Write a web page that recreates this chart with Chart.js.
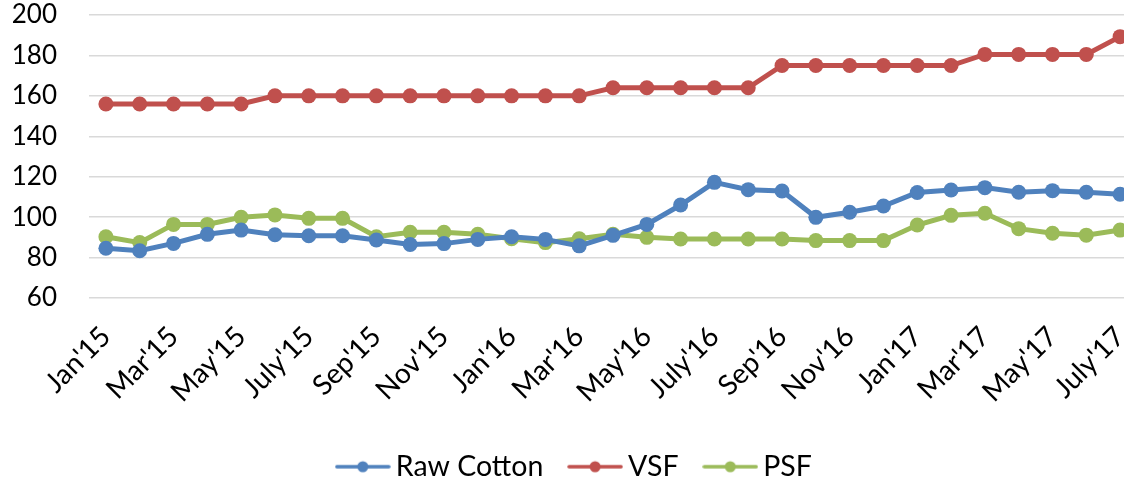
<!DOCTYPE html>
<html>
<head>
<meta charset="utf-8">
<script src="https://cdn.jsdelivr.net/npm/chart.js@4/dist/chart.umd.min.js"></script>
<style>
  html, body { margin: 0; padding: 0; background: #fff; overflow: hidden; }
  #wrap { position: relative; width: 1156px; height: 491px; }
</style>
</head>
<body>
<div id="wrap"><canvas id="c"></canvas></div>
<script>
const categories = ["Jan'15","Feb'15","Mar'15","Apr'15","May'15","June'15","July'15","Aug'15","Sep'15","Oct'15","Nov'15","Dec'15","Jan'16","Feb'16","Mar'16","Apr'16","May'16","June'16","July'16","Aug'16","Sep'16","Oct'16","Nov'16","Dec'16","Jan'17","Feb'17","Mar'17","Apr'17","May'17","June'17","July'17"];
const rawCotton = [84.6, 83.4, 87.0, 91.5, 93.6, 91.3, 90.8, 90.8, 88.7, 86.5, 86.9, 89.0, 90.3, 89.0, 85.8, 91.0, 96.4, 106.0, 117.2, 113.6, 112.9, 99.9, 102.4, 105.5, 112.2, 113.4, 114.6, 112.3, 113.1, 112.3, 111.3];
const vsf = [156, 156, 156, 156, 156, 160, 160, 160, 160, 160, 160, 160, 160, 160, 160, 164, 164, 164, 164, 164, 175, 175, 175, 175, 175, 175, 180.5, 180.5, 180.5, 180.5, 189.3];
const psf = [90.3, 87.4, 96.4, 96.4, 99.9, 101.1, 99.4, 99.4, 90.3, 92.5, 92.5, 91.5, 89.3, 87.4, 89.3, 91.5, 90.0, 89.2, 89.2, 89.2, 89.2, 88.4, 88.4, 88.4, 96.1, 100.9, 101.9, 94.3, 92.0, 91.1, 93.6];
const seriesNames = ["Raw Cotton", "VSF", "PSF"];
const seriesColors = ["#4F81BD", "#C0504D", "#9BBB59"];
const yTicks = [60, 80, 100, 120, 140, 160, 180, 200];

const FONT = "Lato, 'Open Sans', sans-serif";

function legendSwatch(color) {
  const cv = document.createElement('canvas');
  cv.width = 56; cv.height = 14;
  const g = cv.getContext('2d');
  g.strokeStyle = color; g.lineWidth = 3.5; g.lineCap = 'round';
  g.beginPath(); g.moveTo(2, 7); g.lineTo(54, 7); g.stroke();
  g.fillStyle = color;
  g.beginPath(); g.arc(28, 7, 5.5, 0, Math.PI * 2); g.fill();
  return cv;
}

const seriesData = [rawCotton, vsf, psf];
const datasets = seriesData.map((d, i) => ({
  label: seriesNames[i],
  data: d,
  borderColor: seriesColors[i],
  backgroundColor: seriesColors[i],
  borderWidth: 5,
  pointRadius: 7.5,
  pointBorderWidth: 0,
  pointBackgroundColor: seriesColors[i],
  pointHoverRadius: 7.5,
  tension: 0,
  fill: false
}));

new Chart(document.getElementById('c'), {
  type: 'line',
  data: { labels: categories, datasets },
  options: {
    responsive: true,
    maintainAspectRatio: false,
    animation: false,
    layout: { padding: { left: 0, right: 0, top: 0, bottom: 0 } },
    plugins: {
      tooltip: { enabled: false },
      legend: {
        position: 'bottom',
        labels: {
          font: { family: FONT, size: 28.5 },
          color: '#000',
          usePointStyle: true,
          pointStyleWidth: 37.5,
          padding: 33,
          generateLabels: (chart) => chart.data.datasets.map((ds, i) => ({
            text: ds.label,
            fillStyle: ds.borderColor,
            strokeStyle: ds.borderColor,
            lineWidth: 0,
            pointStyle: legendSwatch(ds.borderColor),
            hidden: false,
            datasetIndex: i
          }))
        }
      }
    },
    scales: {
      x: {
        offset: true,
        grid: { display: false, drawTicks: false },
        border: { display: false },
        ticks: {
          autoSkip: false,
          minRotation: 45,
          maxRotation: 45,
          padding: 22,
          color: '#000',
          font: { family: FONT, size: 28 },
          callback: function (v, i) { return i % 2 === 0 ? categories[i] : ''; }
        },
        afterFit: (s) => { s.height = 121.5; s.paddingRight = 19; s.paddingLeft = 0; }
      },
      y: {
        min: yTicks[0],
        max: yTicks[yTicks.length - 1],
        grid: { color: '#D9D9D9', lineWidth: 1.5, drawTicks: false },
        border: { display: false },
        ticks: {
          stepSize: 20,
          padding: 32,
          color: '#000',
          font: { family: FONT, size: 26 }
        },
        afterFit: (s) => { s.width = 89; s.paddingTop = 15; s.paddingBottom = 15; }
      }
    }
  }
});
</script>
</body>
</html>
